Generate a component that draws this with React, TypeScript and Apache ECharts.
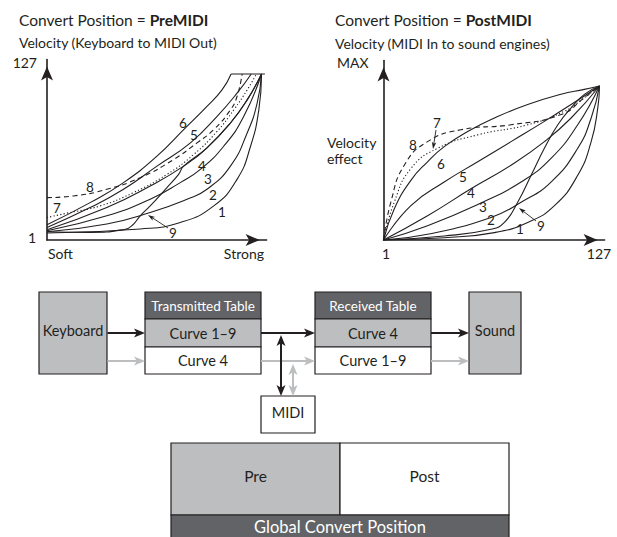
import React, { useEffect, useRef } from "react";
import * as echarts from "echarts";

// ---------- data ----------
// Convert Position = PreMIDI (input 0..127 -> output velocity)
const pre1: [number, number][] = [[0, 5.3], [55.2, 8.4], [78.9, 13.4], [98.7, 26.1], [112.5, 46.4], [120.5, 71.7], [125.4, 99.6], [127, 127]];
const pre2: [number, number][] = [[0, 6.3], [35.4, 12.2], [61.1, 21.0], [82.9, 31.2], [94.7, 38.8], [108.6, 56.5], [118.5, 81.9], [124.4, 104.7], [127, 127]];
const pre3: [number, number][] = [[0, 7.1], [35.4, 18.5], [61.1, 31.2], [78.9, 43.9], [90.8, 54.0], [104.6, 71.7], [116.5, 94.6], [127, 127]];
const pre4: [number, number][] = [[0, 7.9], [35.4, 24.8], [61.1, 41.3], [80.9, 56.5], [94.7, 70.5], [108.6, 89.5], [118.5, 107.2], [127, 127]];
const pre5: [number, number][] = [[0, 9.6], [25.5, 24.8], [45.3, 38.8], [65.1, 56.5], [84.9, 74.3], [100.7, 94.6], [112.5, 112.3], [120.9, 127]];
const pre6: [number, number][] = [[0, 11.7], [25.5, 28.6], [45.3, 43.9], [65.1, 64.1], [80.9, 84.4], [94.7, 102.2], [103.6, 114.8], [109, 127]];
const pre7: [number, number][] = [[0, 17.2], [11.7, 20.5], [31.5, 26.1], [51.2, 36.3], [71, 50.2], [86.8, 65.4], [100.7, 83.1], [110.6, 99.6], [118.5, 114.8], [124, 127]];
const pre8: [number, number][] = [[0, 32.4], [15.6, 33.7], [35.4, 38.8], [55.2, 47.7], [75, 61.6], [88.8, 74.3], [98.7, 84.4], [108.6, 99.6], [112.5, 109.8], [115.5, 127]];
const pre9: [number, number][] = [[0, 6.3], [25.5, 5.8], [45.3, 7.9], [50.2, 10.9], [55.2, 18.5], [61.1, 26.1], [71, 40.1], [77.9, 50.2], [80.9, 56.5], [94.7, 70.5], [108.6, 89.5], [118.5, 107.2], [127, 127]];
const preCeiling: [number, number][] = [[109, 127], [129, 127]];

// Convert Position = PostMIDI (velocity 1..127 -> velocity effect 0..MAX)
const post1: [number, number][] = [[0, 0], [35.7, 1.9], [65.2, 6.1], [84.8, 14.5], [100.5, 28.3], [114.2, 53.4], [122.1, 81.1], [126, 108.9], [127, 127]];
const post2: [number, number][] = [[0, 0], [25.9, 4.7], [63.2, 18.6], [80.9, 31.1], [98.5, 47.8], [114.2, 75.6], [122.1, 100.6], [127, 127]];
const post3: [number, number][] = [[0, 0], [25.9, 11.7], [58.3, 31.1], [80.9, 47.8], [98.5, 67.3], [114.2, 95], [127, 127]];
const post4: [number, number][] = [[0, 0], [25.9, 20], [51.4, 42.2], [75, 61.7], [94.6, 81.1], [110.3, 100.6], [127, 127]];
const post5: [number, number][] = [[0, 0], [16.1, 28.3], [35.7, 47.8], [55.4, 64.5], [75, 81.1], [94.6, 97.8], [110.3, 111.7], [127, 127]];
const post6: [number, number][] = [[0, 0], [6.3, 25.6], [16.1, 49.2], [25.9, 64.5], [35.7, 77.0], [49.5, 89.5], [65.2, 100.6], [84.8, 111.7], [104.4, 120.1], [118.1, 124.2], [127, 127]];
const post7: [number, number][] = [[0, 0], [6.3, 31.1], [16.1, 58.9], [31.8, 75.6], [55.4, 86.7], [84.8, 95], [106.4, 106.2], [118.1, 117.3], [127, 127]];
const post8: [number, number][] = [[0, 0], [4.3, 31.1], [12.2, 61.7], [25.9, 81.1], [45.5, 90.9], [75, 95], [104.4, 103.4], [118.1, 117.3], [127, 127]];
const post9: [number, number][] = [[0, 0], [35.7, 3.3], [63.2, 8.9], [71.1, 14.5], [78.9, 31.1], [86.8, 53.4], [94.6, 75.6], [102.5, 95], [110.3, 108.9], [118.1, 120.1], [127, 127]];

const curveNames = ["1", "2", "3", "4", "5", "6", "7", "8", "9"];
const preCurves = [pre1, pre2, pre3, pre4, pre5, pre6, pre7, pre8, pre9];
const postCurves = [post1, post2, post3, post4, post5, post6, post7, post8, post9];

const preTitle = ["Convert Position = ", "PreMIDI"];
const postTitle = ["Convert Position = ", "PostMIDI"];
const preYName = "Velocity (Keyboard to MIDI Out)";
const postYName = "Velocity (MIDI In to sound engines)";
const preTicks = { yTop: "127", yBottom: "1", xLeft: "Soft", xRight: "Strong" };
const postTicks = { yTop: "MAX", yMid: ["Velocity", "effect"], xLeft: "1", xRight: "127" };

const diagramTexts = {
  keyboard: "Keyboard",
  sound: "Sound",
  tx: "Transmitted Table",
  rx: "Received Table",
  tx1: "Curve 1\u20139",
  tx2: "Curve 4",
  rx1: "Curve 4",
  rx2: "Curve 1\u20139",
  midi: "MIDI",
  pre: "Pre",
  post: "Post",
  global: "Global Convert Position",
};

// ---------- styles ----------
const INK = "#231f20";
const GRAY = "#bcbec0";
const DARK = "#626366";
const FONT = 'Lato, "Open Sans", sans-serif';

function head(tx: number, ty: number, fx: number, fy: number, L: number, W: number, color: string) {
  const dx = tx - fx, dy = ty - fy;
  const d = Math.sqrt(dx * dx + dy * dy) || 1;
  const ux = dx / d, uy = dy / d;
  const nx = -uy, ny = ux;
  const bx = tx - ux * L, by = ty - uy * L;
  return {
    type: "polygon",
    shape: {
      points: [
        [tx, ty],
        [bx + (nx * W) / 2, by + (ny * W) / 2],
        [tx - ux * L * 0.75, ty - uy * L * 0.75],
        [bx - (nx * W) / 2, by - (ny * W) / 2],
      ],
    },
    style: { fill: color },
    silent: true,
  };
}

function arrow(fx: number, fy: number, tx: number, ty: number, color: string, w: number, L: number, W: number, both = false) {
  const len = Math.hypot(tx - fx, ty - fy);
  const ux = (tx - fx) / len, uy = (ty - fy) / len;
  const els: any[] = [
    { type: "line", shape: { x1: fx, y1: fy, x2: tx - ux * L * 0.7, y2: ty - uy * L * 0.7 }, style: { stroke: color, lineWidth: w }, silent: true },
    head(tx, ty, fx, fy, L, W, color),
  ];
  if (both) {
    els[0].shape.x1 = fx + ux * L * 0.7;
    els[0].shape.y1 = fy + uy * L * 0.7;
    els.push(head(fx, fy, tx, ty, L, W, color));
  }
  return els;
}

function txt(x: number, y: number, text: string, size: number, align = "left", color = INK, weight: any = "normal") {
  return {
    type: "text",
    x,
    y,
    silent: true,
    style: {
      text,
      fill: color,
      font: `${weight} ${size}px ${FONT}`,
      fontSize: size,
      fontFamily: FONT,
      fontWeight: weight,
      align,
      textAlign: align,
      verticalAlign: "middle",
      textVerticalAlign: "middle",
    },
  };
}

function richTitle(x: number, y: number, parts: string[]) {
  return {
    type: "text",
    x,
    y,
    silent: true,
    style: {
      text: `{a|${parts[0]}}{b|${parts[1]}}`,
      fill: INK,
      fontFamily: FONT,
      fontSize: 15.5,
      verticalAlign: "middle",
      textVerticalAlign: "middle",
      rich: {
        a: { fontFamily: FONT, fontSize: 15.5, fill: INK, color: INK },
        b: { fontFamily: FONT, fontSize: 15.5, fontWeight: "bold", fill: INK, color: INK },
      },
    },
  };
}

function rect(x: number, y: number, w: number, h: number, fill: string, stroke = INK) {
  return { type: "rect", shape: { x, y, width: w, height: h }, style: { fill, stroke, lineWidth: 1.2 }, silent: true };
}

function axisCommon(gridIndex: number, max: number) {
  return {
    type: "value",
    gridIndex,
    min: 0,
    max,
    axisLine: {
      show: true,
      onZero: false,
      lineStyle: { color: INK, width: 1.6 },
      symbol: ["none", "arrow"],
      symbolSize: [9, 14],
      symbolOffset: [0, -7],
    },
    axisTick: { show: false },
    axisLabel: { show: false },
    splitLine: { show: false },
  };
}

export default function App() {
  const ref = useRef<HTMLDivElement>(null);
  useEffect(() => {
    if (!ref.current) return;
    const chart = echarts.init(ref.current, undefined, { renderer: "svg" });

    const series: any[] = [];
    const mk = (data: [number, number][], idx: number, name: string, i: number) => ({
      type: "line",
      name,
      xAxisIndex: idx,
      yAxisIndex: idx,
      data,
      smooth: 0.5,
      symbol: "none",
      silent: true,
      lineStyle: {
        color: INK,
        width: 1.1,
        type: i === 6 ? [1.2, 2.2] : i === 7 ? [5, 3.5] : "solid",
      },
      z: 3,
    });
    preCurves.forEach((c, i) => series.push(mk(c, 0, "pre" + curveNames[i], i)));
    postCurves.forEach((c, i) => series.push(mk(c, 1, "post" + curveNames[i], i)));
    series.push({ ...mk(preCeiling, 0, "preCeiling", 0), smooth: false });

    const g: any[] = [];
    // titles and axis texts
    g.push(richTitle(19, 20, preTitle));
    g.push(txt(19, 42, preYName, 14));
    g.push(txt(37, 62, preTicks.yTop, 14, "right"));
    g.push(txt(36, 237, preTicks.yBottom, 14, "right"));
    g.push(txt(48, 253, preTicks.xLeft, 14, "left"));
    g.push(txt(264, 253, preTicks.xRight, 14, "right"));

    g.push(richTitle(335, 20, postTitle));
    g.push(txt(335, 43, postYName, 14));
    g.push(txt(337, 62, postTicks.yTop, 14));
    g.push(txt(327, 142, postTicks.yMid[0], 14));
    g.push(txt(327, 158, postTicks.yMid[1], 14));
    g.push(txt(386, 253, postTicks.xLeft, 14, "center"));
    g.push(txt(599, 253, postTicks.xRight, 14, "center"));

    // curve number annotations (PreMIDI)
    const preLab: [number, number][] = [[222, 212], [213, 195], [208, 179], [202, 166], [194, 135], [183, 123], [57, 208], [90, 187], [173, 233]];
    preLab.forEach((p, i) => g.push(txt(p[0], p[1], curveNames[i], 13.5, "center")));
    g.push(...arrow(168, 228, 148, 215, INK, 0.9, 7, 4.5));
    // curve number annotations (PostMIDI)
    const postLab: [number, number][] = [[520, 229], [491, 220], [483, 207], [471, 193], [463, 177], [441, 164], [437, 123], [413, 145], [541, 226]];
    postLab.forEach((p, i) => g.push(txt(p[0], p[1], curveNames[i], 13.5, "center")));
    g.push(...arrow(436, 130, 433, 149, INK, 0.9, 7, 4.5));
    g.push(...arrow(536, 221, 519, 208, INK, 0.9, 7, 4.5));

    // ---- diagram ----
    g.push(rect(39, 292, 68, 82, GRAY));
    g.push(txt(73, 330, diagramTexts.keyboard, 14.5, "center"));
    // transmitted table
    g.push(rect(145, 292, 116, 27, DARK));
    g.push(rect(145, 319, 116, 28, GRAY));
    g.push(rect(145, 347, 116, 27, "#ffffff"));
    g.push(txt(203, 305.5, diagramTexts.tx, 13.5, "center", "#ffffff"));
    g.push(txt(203, 333, diagramTexts.tx1, 14.5, "center"));
    g.push(txt(203, 360.5, diagramTexts.tx2, 14.5, "center"));
    // received table
    g.push(rect(315, 292, 116, 27, DARK));
    g.push(rect(315, 319, 116, 28, GRAY));
    g.push(rect(315, 347, 116, 27, "#ffffff"));
    g.push(txt(373, 305.5, diagramTexts.rx, 13.5, "center", "#ffffff"));
    g.push(txt(373, 333, diagramTexts.rx1, 14.5, "center"));
    g.push(txt(373, 360.5, diagramTexts.rx2, 14.5, "center"));
    // sound
    g.push(rect(469, 292, 52, 82, GRAY));
    g.push(txt(495, 330, diagramTexts.sound, 14.5, "center"));
    // midi
    g.push(rect(261, 396, 54, 37, "#ffffff"));
    g.push(txt(288, 412, diagramTexts.midi, 14.5, "center"));

    // arrows
    g.push(...arrow(107.5, 333, 145, 333, INK, 2, 11, 9));
    g.push(...arrow(107.5, 361, 145, 361, GRAY, 2, 11, 9));
    g.push(...arrow(261, 333, 315, 333, INK, 2, 11, 9));
    g.push(...arrow(261, 361, 315, 361, GRAY, 2, 11, 9));
    g.push(...arrow(431, 333, 469, 333, INK, 2, 11, 9));
    g.push(...arrow(431, 361, 469, 361, GRAY, 2, 11, 9));
    g.push(...arrow(281, 335, 281, 396, INK, 2, 11, 9, true));
    g.push(...arrow(293, 364, 293, 396, GRAY, 2, 11, 9, true));

    // global convert position
    g.push(rect(171, 443, 169, 72, GRAY));
    g.push(rect(340, 443, 169, 72, "#ffffff"));
    g.push(rect(171, 515, 338, 24, DARK));
    g.push(txt(255.5, 476, diagramTexts.pre, 15.5, "center"));
    g.push(txt(424.5, 476, diagramTexts.post, 15.5, "center"));
    g.push(txt(340, 527, diagramTexts.global, 16.5, "center", "#ffffff"));

    chart.setOption({
      animation: false,
      backgroundColor: "#ffffff",
      grid: [
        { left: 47, top: 59.6, width: 219.6, height: 180.4 },
        { left: 383.5, top: 60.5, width: 221.1, height: 179.5 },
      ],
      xAxis: [axisCommon(0, 130), axisCommon(1, 130)],
      yAxis: [axisCommon(0, 138), axisCommon(1, 148)],
      series,
      graphic: { elements: g },
    });
    return () => chart.dispose();
  }, []);
  return <div ref={ref} style={{ position: "fixed", left: 0, top: 0, width: 617, height: 537 }} />;
}
